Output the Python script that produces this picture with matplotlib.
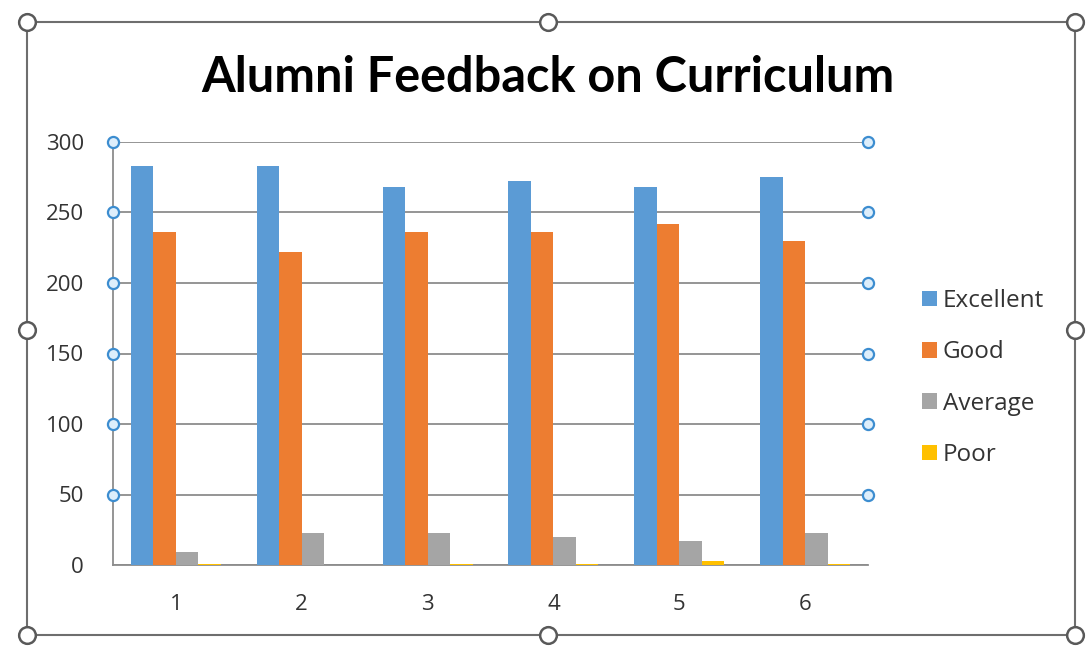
import numpy as np
import matplotlib
matplotlib.use("Agg")
import matplotlib.pyplot as plt
from matplotlib.lines import Line2D
from matplotlib.patches import Rectangle

# data
categories = ["1", "2", "3", "4", "5", "6"]
excellent = [283, 283, 268, 272, 268, 275]
good = [236, 222, 236, 236, 242, 230]
average = [9, 23, 23, 20, 17, 23]
poor = [1, 0, 1, 1, 3, 1]
series_names = ["Excellent", "Good", "Average", "Poor"]
series_colors = ["#5B9BD5", "#ED7D31", "#A5A5A5", "#FFC000"]
y_ticks = [0, 50, 100, 150, 200, 250, 300]

W, H = 1086, 648
fig = plt.figure(figsize=(W / 100, H / 100), dpi=100)
fig.patch.set_facecolor("white")

ax = fig.add_axes([113 / W, 1 - 565 / H, (868 - 113) / W, (565 - 142) / H])

x = np.arange(len(categories))
bar_w = 0.179
all_series = [excellent, good, average, poor]
for i, (vals, name, col) in enumerate(zip(all_series, series_names, series_colors)):
    offset = (i - 1.5) * bar_w
    ax.bar(x + offset, vals, width=bar_w, color=col, label=name, zorder=3)

ax.set_xlim(-0.5, len(categories) - 0.5)
ax.set_ylim(0, 300)
ax.set_yticks(y_ticks)
ax.set_xticks(x)
ax.set_xticklabels(categories)

for lab in ax.get_xticklabels() + ax.get_yticklabels():
    lab.set_fontfamily("Open Sans")
    lab.set_fontsize(16)
    lab.set_color("#333333")
ax.tick_params(axis="both", length=0)
ax.tick_params(axis="x", pad=21)
ax.tick_params(axis="y", pad=21)

ax.grid(axis="y", color="#8C8C8C", linewidth=1.3, zorder=0)
for side in ["top", "right"]:
    ax.spines[side].set_visible(False)
ax.spines["left"].set_color("#8C8C8C")
ax.spines["left"].set_linewidth(1.3)
ax.spines["bottom"].set_color("#8C8C8C")
ax.spines["bottom"].set_linewidth(1.3)

# gridline selection handles
grid_vals = [v for v in y_ticks if v > 0]
for xe in ax.get_xlim():
    ax.plot([xe] * len(grid_vals), grid_vals, linestyle="none", marker="o",
            ms=8, mfc="#DDEEFB", mec="#3C8DD0", mew=1.6, clip_on=False, zorder=5)

fig.text(548 / W, 1 - 92 / H, "Alumni Feedback on Curriculum", fontfamily="Lato",
         fontweight="bold", fontsize=35, color="#000000", ha="center", va="baseline")

leg = ax.legend(loc="upper left", bbox_to_anchor=(910 / W, 1 - 277 / H),
                bbox_transform=fig.transFigure, frameon=False,
                prop={"family": "Open Sans", "size": 17.5},
                handlelength=0.6, handleheight=0.6, handletextpad=0.25,
                labelspacing=1.12, borderpad=0)
for t in leg.get_texts():
    t.set_color("#333333")

# outer chart selection frame and handles
frame = Rectangle((27 / W, 1 - 635 / H), (1075 - 27) / W, (635 - 22) / H,
                  transform=fig.transFigure, fill=False, edgecolor="#6E6E6E",
                  linewidth=1.5)
fig.add_artist(frame)
hx = [27, 548, 1075, 27, 1075, 27, 548, 1075]
hy = [22, 22, 22, 330, 330, 635, 635, 635]
fig.add_artist(Line2D([v / W for v in hx], [1 - v / H for v in hy],
                      transform=fig.transFigure, linestyle="none", marker="o",
                      ms=12, mfc="white", mec="#595959", mew=1.8))

fig.savefig("out.png", dpi=100, facecolor="white")
